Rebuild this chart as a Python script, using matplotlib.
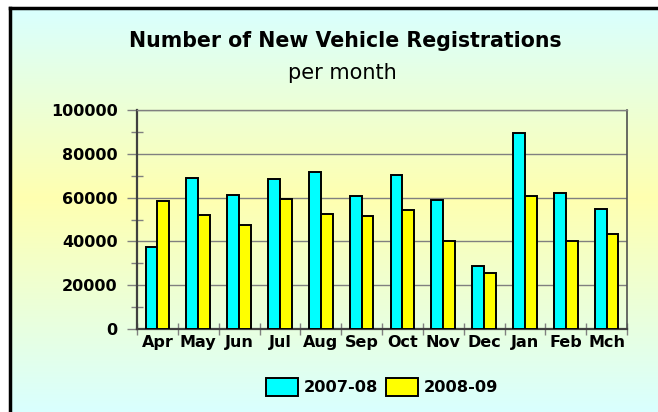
"""
Number of New Vehicle Registrations per month - grouped bar chart
"""

import numpy as np
import matplotlib.pyplot as plt
from matplotlib.colors import LinearSegmentedColormap
from matplotlib.ticker import MultipleLocator, FixedLocator, NullFormatter

# Data
months = ['Apr', 'May', 'Jun', 'Jul', 'Aug', 'Sep', 'Oct', 'Nov', 'Dec', 'Jan', 'Feb', 'Mch']
regs_2007 = [37600, 68800, 61200, 68600, 71500, 60900, 70500, 58800, 28900, 89300, 62100, 54600]
regs_2008 = [58600, 52200, 47600, 59500, 52700, 51700, 54200, 40300, 25700, 60900, 40300, 43200]
series_names = ['2007-08', '2008-09']

# Colours
c_cyan = '#00FFFF'
c_yellow = '#FFFF00'

fig = plt.figure(figsize=(6.58, 4.12), dpi=100)
fig.patch.set_facecolor('white')

# Background panel with vertical gradient (cyan -> yellow -> cyan)
bg = fig.add_axes([10/658, 0, 1 - 10/658, 1 - 8/412])
grad_cmap = LinearSegmentedColormap.from_list(
    'bg', [(0, '#D9FFFF'), (0.47, '#FFFFB0'), (1, '#D9FFFF')])
grad = np.linspace(0, 1, 256).reshape(-1, 1)
bg.imshow(grad, aspect='auto', cmap=grad_cmap, extent=[0, 1, 0, 1], origin='upper')
bg.set_xlim(0, 1)
bg.set_ylim(0, 1)
bg.set_xticks([])
bg.set_yticks([])
for side in ['right', 'bottom']:
    bg.spines[side].set_visible(False)
for side in ['left', 'top']:
    bg.spines[side].set_linewidth(2.5)
    bg.spines[side].set_color('black')

# Main plot area
ax = fig.add_axes([137/658, 1 - 329/412, (627 - 137)/658, (329 - 110)/412])
ax.set_facecolor('none')

x = np.arange(len(months))
w = 0.29
ax.bar(x - w/2, regs_2007, width=w, color=c_cyan, edgecolor='black', linewidth=1.4,
       label=series_names[0], zorder=3)
ax.bar(x + w/2, regs_2008, width=w, color=c_yellow, edgecolor='black', linewidth=1.4,
       label=series_names[1], zorder=3)

ax.set_xlim(-0.5, len(months) - 0.5)
ax.set_ylim(0, 100000)

# y axis ticks and grid
ax.yaxis.set_major_locator(MultipleLocator(20000))
ax.yaxis.set_minor_locator(MultipleLocator(10000))
ax.tick_params(axis='y', which='major', direction='out', length=7, width=1,
               color='#808080', labelsize=11.5, pad=7)
ax.tick_params(axis='y', which='minor', direction='inout', length=8, width=1,
               color='#808080')
for lbl in ax.get_yticklabels():
    lbl.set_fontweight('bold')
ax.yaxis.grid(True, which='major', color='#808080', linewidth=1, zorder=1)

# x axis: boundary ticks, labels at category centres
ax.xaxis.set_major_locator(FixedLocator(np.arange(-0.5, len(months), 1.0)))
ax.xaxis.set_major_formatter(NullFormatter())
ax.xaxis.set_minor_locator(FixedLocator(x))
ax.set_xticklabels(months, minor=True, fontsize=11.5, fontweight='bold')
ax.tick_params(axis='x', which='major', direction='inout', length=8, width=1,
               color='#808080')
ax.tick_params(axis='x', which='minor', length=0, pad=4)

for side in ['left', 'bottom']:
    ax.spines[side].set_color('#404040')
    ax.spines[side].set_linewidth(1.6)
ax.spines['right'].set_color('#505050')
ax.spines['right'].set_linewidth(1.2)
ax.spines['top'].set_color('#808080')
ax.spines['top'].set_linewidth(1)

# Titles
fig.text(345/658, 1 - 47/412, 'Number of New Vehicle Registrations', ha='center',
         va='baseline', fontsize=14.8, fontweight='bold')
fig.text(342/658, 1 - 79/412, 'per month', ha='center', va='baseline', fontsize=15)

# Legend
leg = fig.legend(loc='center', bbox_to_anchor=(382/658, 1 - 387/412), ncol=2,
                 frameon=False, prop={'weight': 'bold', 'size': 11.7},
                 handlelength=1.97, handleheight=1.3, handletextpad=0.37,
                 columnspacing=0.5)

fig.savefig('out.png', dpi=100)
